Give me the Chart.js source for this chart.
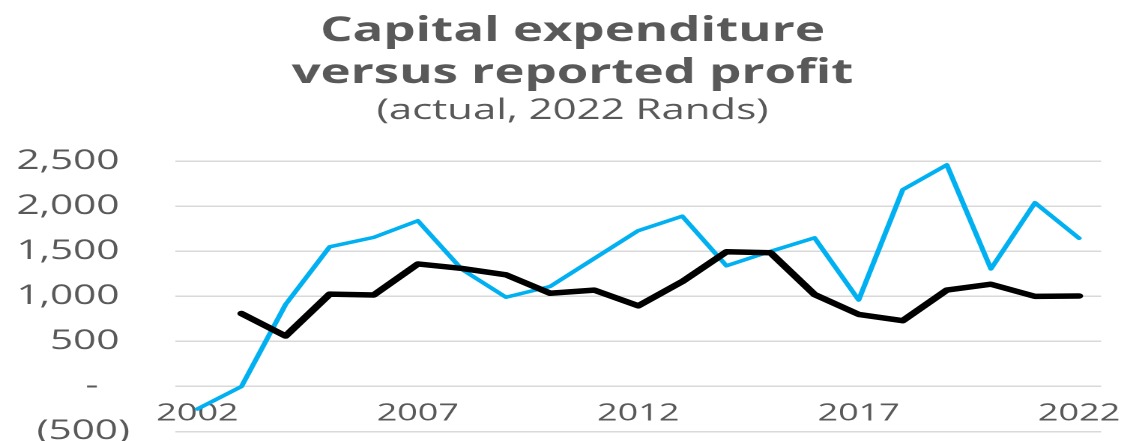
<!DOCTYPE html>
<html lang="en">
<head>
<meta charset="utf-8">
<title>Capital expenditure versus reported profit</title>
<script src="https://cdn.jsdelivr.net/npm/chart.js@4.4.1/dist/chart.umd.min.js"></script>
<style>
  html, body { margin: 0; padding: 0; background: #ffffff; overflow: hidden; }
  body { width: 1139px; height: 441px; position: relative; }
  /* chart is laid out narrow and stretched out sideways to the page width */
  #chartBox { position: absolute; left: 0; top: 0; transform: scaleX(1.4987); transform-origin: 0 0; }
</style>
</head>
<body>
<div id="chartBox"><canvas id="capexChart" width="764" height="478"></canvas></div>
<script>
// Financial years on the category axis
const years = ['2002', '2003', '2004', '2005', '2006', '2007', '2008', '2009', '2010', '2011',
               '2012', '2013', '2014', '2015', '2016', '2017', '2018', '2019', '2020', '2021', '2022'];

// Capital expenditure (blue line)
const capex = [-250, 0, 910, 1550, 1655, 1840, 1300, 990, 1110, 1420,
               1730, 1890, 1340, 1500, 1650, 960, 2185, 2460, 1305, 2040, 1645];

// Reported profit (black line), no figure for 2002
const profit = [null, 810, 560, 1025, 1015, 1360, 1310, 1240, 1035, 1070,
                895, 1165, 1495, 1485, 1020, 800, 730, 1070, 1135, 1000, 1005];

// Only every fifth year gets a label
const yearLabels = ['2002', '2007', '2012', '2017', '2022'];

const yMin = -500;
const yMax = 2500;
const yStep = 500;

const TEXT_GREY = '#595959';
const GRID_GREY = '#d9d9d9';
const FONT = "'Open Sans', sans-serif";

// Accounting style numbers: brackets for negatives, a dash for zero
function formatRands(value) {
    if (value === 0) {
        return '-   ';
    }
    if (value < 0) {
        return '(' + Math.abs(value).toLocaleString('en-US') + ')';
    }
    return value.toLocaleString('en-US') + ' ';
}

function renderCapexChart() {
    const ctx = document.getElementById('capexChart');

    new Chart(ctx, {
        type: 'line',
        data: {
            labels: years,
            datasets: [
                {
                    label: 'Capital expenditure',
                    data: capex,
                    borderColor: '#00b0f0',
                    borderWidth: 3.5,
                    pointRadius: 0,
                    tension: 0,
                    borderJoinStyle: 'round',
                    borderCapStyle: 'round',
                    order: 1
                },
                {
                    label: 'Reported profit',
                    data: profit,
                    borderColor: '#000000',
                    borderWidth: 5.5,
                    pointRadius: 0,
                    tension: 0,
                    borderJoinStyle: 'round',
                    borderCapStyle: 'round',
                    order: 0
                }
            ]
        },
        options: {
            responsive: false,
            animation: false,
            devicePixelRatio: 2,
            layout: {
                padding: 0
            },
            plugins: {
                legend: { display: false },
                tooltip: { enabled: false },
                title: {
                    display: true,
                    text: ['Capital expenditure', 'versus reported profit'],
                    color: TEXT_GREY,
                    font: { family: FONT, size: 34, weight: 'bold', lineHeight: 1.235 },
                    padding: { top: 10.5, bottom: 0 }
                },
                subtitle: {
                    display: true,
                    text: '(actual, 2022 Rands)',
                    color: TEXT_GREY,
                    font: { family: FONT, size: 28, weight: 'normal', lineHeight: 1.2 },
                    padding: { top: 0, bottom: 33.2 }
                }
            },
            scales: {
                x: {
                    offset: true,
                    grid: { display: false, drawTicks: false },
                    border: { display: false },
                    ticks: {
                        autoSkip: false,
                        maxRotation: 0,
                        mirror: true,
                        padding: 3.5,
                        color: TEXT_GREY,
                        font: { family: FONT, size: 24 },
                        callback: function (value, index) {
                            return yearLabels.includes(years[index]) ? years[index] : '';
                        }
                    },
                    afterFit: function (scale) {
                        scale.height = 31.6;
                    }
                },
                y: {
                    min: yMin,
                    max: yMax,
                    grid: { color: GRID_GREY, lineWidth: 1.5, drawTicks: false },
                    border: { display: false },
                    ticks: {
                        stepSize: yStep,
                        padding: 30.3,
                        color: TEXT_GREY,
                        font: { family: FONT, size: 27 },
                        callback: function (value) {
                            return formatRands(value);
                        }
                    },
                    afterFit: function (scale) {
                        scale.width = 117.0;
                    }
                },
                // empty strip on the right so the plot stops short of the edge
                yRight: {
                    position: 'right',
                    grid: { display: false, drawTicks: false },
                    border: { display: false },
                    ticks: { display: false },
                    afterFit: function (scale) {
                        scale.width = 29.3;
                    }
                }
            }
        }
    });
}

renderCapexChart();
</script>
</body>
</html>
